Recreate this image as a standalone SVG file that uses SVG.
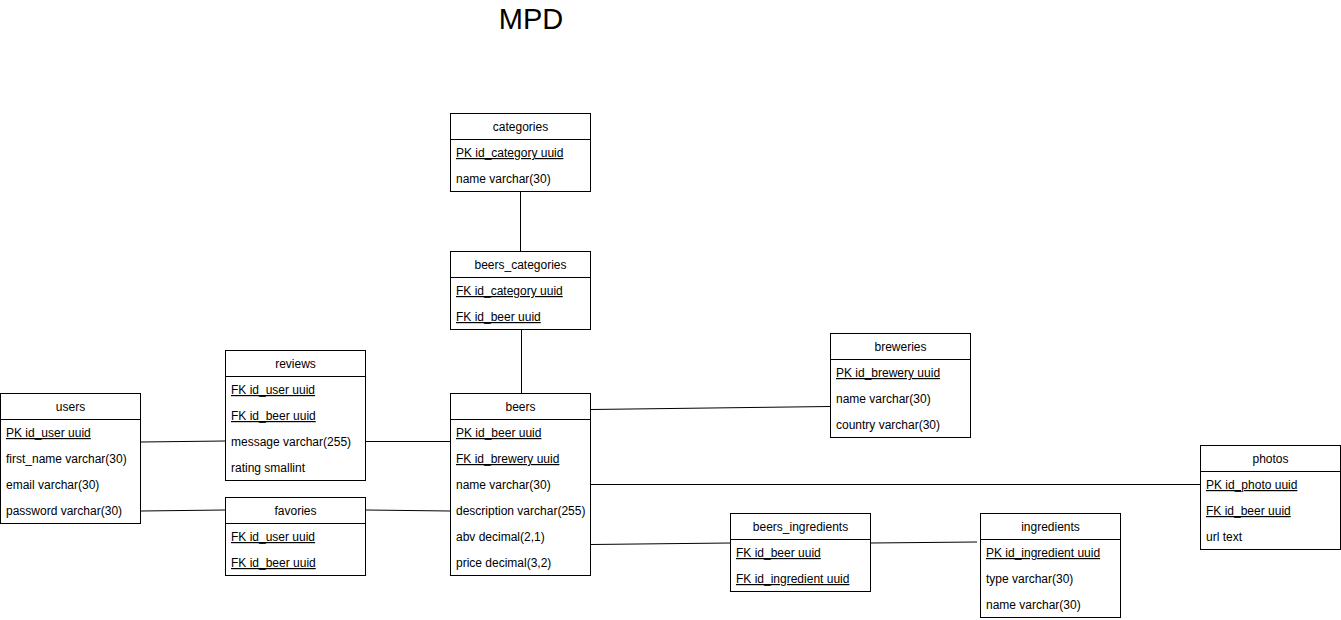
<svg xmlns="http://www.w3.org/2000/svg" width="1341" height="620" viewBox="0 0 1341 620">
<style>
text{font-family:"Liberation Sans",Arial,Helvetica,sans-serif;font-size:12px;fill:#000}
.box{fill:#fff;stroke:#000;stroke-width:1}
.hd{text-anchor:middle}
.k{text-decoration:underline}
.c{stroke:#000;stroke-width:1;fill:none}
.title{font-size:29px;text-anchor:middle}
</style>
<rect width="1341" height="620" fill="#fff"/>
<text class="title" x="531" y="28.5">MPD</text>
<g id="connectors">
<line class="c" x1="520.5" y1="192" x2="520.5" y2="251"/>
<line class="c" x1="521.5" y1="330" x2="521.5" y2="393"/>
<line class="c" x1="141" y1="442" x2="225" y2="441"/>
<line class="c" x1="366" y1="441.5" x2="450" y2="441.5"/>
<line class="c" x1="141" y1="511" x2="225" y2="510"/>
<line class="c" x1="366" y1="510" x2="450" y2="511"/>
<line class="c" x1="591" y1="409.5" x2="830" y2="406.5"/>
<line class="c" x1="591" y1="484.5" x2="1200" y2="484.5"/>
<line class="c" x1="591" y1="544.5" x2="730" y2="543"/>
<line class="c" x1="871" y1="543" x2="977" y2="542"/>
</g>
<g id="categories">
<rect class="box" x="450.5" y="113.5" width="140" height="78"/>
<line class="c" x1="450.5" y1="139.5" x2="590.5" y2="139.5"/>
<text class="hd" x="520.5" y="130.5">categories</text>
<text class="k" x="456" y="157">PK id_category uuid</text>
<text x="456" y="183">name varchar(30)</text>
</g>
<g id="beers_categories">
<rect class="box" x="450.5" y="251.5" width="140" height="78"/>
<line class="c" x1="450.5" y1="277.5" x2="590.5" y2="277.5"/>
<text class="hd" x="520.5" y="268.5">beers_categories</text>
<text class="k" x="456" y="295">FK id_category uuid</text>
<text class="k" x="456" y="321">FK id_beer uuid</text>
</g>
<g id="users">
<rect class="box" x="0.5" y="393.5" width="140" height="130"/>
<line class="c" x1="0.5" y1="419.5" x2="140.5" y2="419.5"/>
<text class="hd" x="70.5" y="410.5">users</text>
<text class="k" x="6" y="437">PK id_user uuid</text>
<text x="6" y="463">first_name varchar(30)</text>
<text x="6" y="489">email varchar(30)</text>
<text x="6" y="515">password varchar(30)</text>
</g>
<g id="reviews">
<rect class="box" x="225.5" y="350.5" width="140" height="130"/>
<line class="c" x1="225.5" y1="376.5" x2="365.5" y2="376.5"/>
<text class="hd" x="295.5" y="367.5">reviews</text>
<text class="k" x="231" y="394">FK id_user uuid</text>
<text class="k" x="231" y="420">FK id_beer uuid</text>
<text x="231" y="446">message varchar(255)</text>
<text x="231" y="472">rating smallint</text>
</g>
<g id="favories">
<rect class="box" x="225.5" y="497.5" width="140" height="78"/>
<line class="c" x1="225.5" y1="523.5" x2="365.5" y2="523.5"/>
<text class="hd" x="295.5" y="514.5">favories</text>
<text class="k" x="231" y="541">FK id_user uuid</text>
<text class="k" x="231" y="567">FK id_beer uuid</text>
</g>
<g id="beers">
<rect class="box" x="450.5" y="393.5" width="140" height="182"/>
<line class="c" x1="450.5" y1="419.5" x2="590.5" y2="419.5"/>
<text class="hd" x="520.5" y="410.5">beers</text>
<text class="k" x="456" y="437">PK id_beer uuid</text>
<text class="k" x="456" y="463">FK id_brewery uuid</text>
<text x="456" y="489">name varchar(30)</text>
<text x="456" y="515">description varchar(255)</text>
<text x="456" y="541">abv decimal(2,1)</text>
<text x="456" y="567">price decimal(3,2)</text>
</g>
<g id="breweries">
<rect class="box" x="830.5" y="333.5" width="140" height="104"/>
<line class="c" x1="830.5" y1="359.5" x2="970.5" y2="359.5"/>
<text class="hd" x="900.5" y="350.5">breweries</text>
<text class="k" x="836" y="377">PK id_brewery uuid</text>
<text x="836" y="403">name varchar(30)</text>
<text x="836" y="429">country varchar(30)</text>
</g>
<g id="beers_ingredients">
<rect class="box" x="730.5" y="513.5" width="140" height="78"/>
<line class="c" x1="730.5" y1="539.5" x2="870.5" y2="539.5"/>
<text class="hd" x="800.5" y="530.5">beers_ingredients</text>
<text class="k" x="736" y="557">FK id_beer uuid</text>
<text class="k" x="736" y="583">FK id_ingredient uuid</text>
</g>
<g id="ingredients">
<rect class="box" x="980.5" y="513.5" width="140" height="104"/>
<line class="c" x1="980.5" y1="539.5" x2="1120.5" y2="539.5"/>
<text class="hd" x="1050.5" y="530.5">ingredients</text>
<text class="k" x="986" y="557">PK id_ingredient uuid</text>
<text x="986" y="583">type varchar(30)</text>
<text x="986" y="609">name varchar(30)</text>
</g>
<g id="photos">
<rect class="box" x="1200.5" y="445.5" width="140" height="104"/>
<line class="c" x1="1200.5" y1="471.5" x2="1340.5" y2="471.5"/>
<text class="hd" x="1270.5" y="462.5">photos</text>
<text class="k" x="1206" y="489">PK id_photo uuid</text>
<text class="k" x="1206" y="515">FK id_beer uuid</text>
<text x="1206" y="541">url text</text>
</g>
</svg>
